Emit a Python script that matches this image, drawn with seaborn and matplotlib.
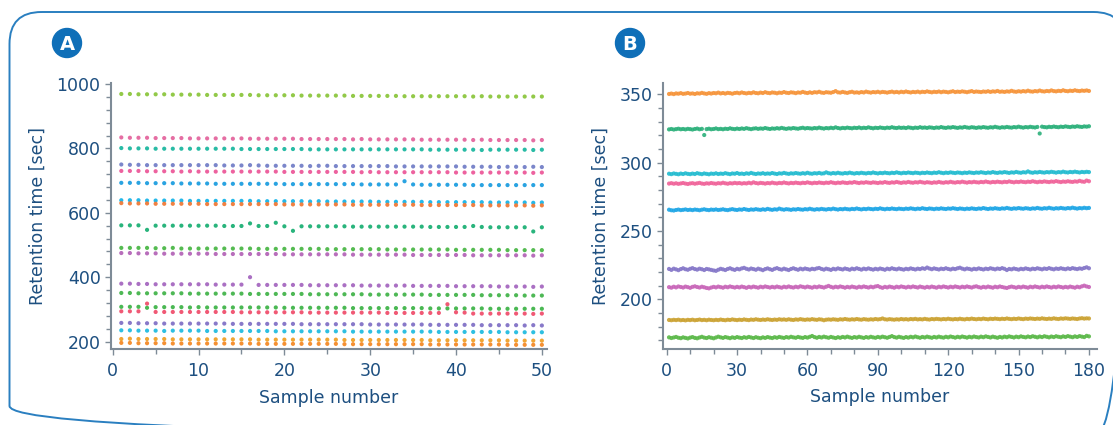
import numpy as np
import pandas as pd
import matplotlib
matplotlib.use("Agg")
import matplotlib.pyplot as plt
from matplotlib.patches import FancyBboxPatch, Circle
from matplotlib.ticker import MultipleLocator
from matplotlib.transforms import Affine2D
import seaborn as sns

# ---------------- Panel A data (50 samples, 19 compounds) ----------------
samples_a = list(range(1, 51))
a01 = [969,969,968,968,968,968,967,967,967,967,966,966,966,966,966,966,965,965,965,965,965,964,964,964,964,964,964,963,963,963,963,963,963,962,962,962,962,962,962,962,962,961,962,961,961,961,961,961,961,961]
a02 = [834,833,833,833,832,832,832,832,831,831,831,831,831,830,831,830,830,830,830,830,830,829,829,829,829,829,829,828,829,828,828,828,828,828,828,827,827,827,827,827,827,826,827,826,826,826,826,826,825,826]
a03 = [801,800,800,800,799,799,799,799,799,799,799,799,799,799,798,798,798,798,798,798,798,798,797,797,797,797,797,797,797,797,797,797,797,797,797,797,796,796,796,796,796,796,795,796,796,796,796,796,795,796]
a04 = [750,749,749,748,748,748,748,748,748,748,748,748,747,747,747,748,747,746,746,746,746,746,745,746,746,745,745,745,745,745,745,745,744,744,744,744,744,744,744,744,743,743,743,743,742,743,743,742,743,742]
a05 = [730,730,730,729,729,729,729,728,729,728,728,728,728,728,728,728,728,728,728,727,727,727,727,727,727,727,727,727,726,727,726,726,726,726,726,726,726,726,726,725,725,725,725,725,725,725,725,725,724,725]
a06 = [693,693,693,692,692,692,692,691,691,691,691,690,690,690,690,690,690,690,690,689,689,689,689,689,689,689,689,689,688,688,688,688,688,698,688,687,687,687,687,687,687,686,686,686,686,686,686,686,686,686]
a07 = [639,639,639,638,638,638,638,638,637,637,637,637,637,637,637,637,636,636,636,636,636,636,635,636,635,635,635,635,635,635,634,634,634,634,634,634,633,633,633,633,633,633,633,632,632,632,632,632,631,632]
a08 = [630,629,629,629,628,628,628,628,628,628,627,627,627,627,627,627,627,627,627,626,626,626,626,626,626,626,626,625,625,625,625,625,625,625,625,624,624,624,624,624,624,624,623,623,623,623,623,623,622,623]
a09 = [561,561,561,547,560,560,560,560,560,560,560,560,559,559,559,567,559,559,569,558,544,558,558,558,558,558,558,557,557,557,557,557,557,557,557,557,556,556,556,556,556,559,556,555,555,555,555,555,542,555]
a10 = [491,491,491,491,490,490,491,489,489,489,489,489,489,489,489,489,488,488,488,488,488,488,488,488,487,487,487,487,487,487,487,486,486,486,486,486,486,486,486,485,485,485,485,485,485,484,484,484,484,484]
a11 = [475,475,474,474,474,473,473,473,473,473,473,472,472,472,472,472,472,472,472,471,471,471,471,471,471,471,471,470,470,470,470,470,470,470,469,469,469,469,469,469,469,468,468,468,468,468,468,468,467,468]
a12 = [380,380,379,379,378,378,378,378,378,378,378,377,377,377,377,400,376,376,376,376,376,376,375,375,375,375,375,375,374,374,374,374,374,374,373,373,373,373,373,372,372,372,372,372,371,371,371,371,370,371]
a13 = [351,351,350,350,350,350,350,350,349,349,349,349,349,349,349,348,348,348,348,348,348,348,347,347,347,347,347,347,347,346,346,346,346,346,346,346,345,345,345,345,345,345,344,344,344,344,344,343,343,343]
a14 = [308,308,308,305,307,307,307,307,306,307,306,306,306,306,306,306,306,306,306,305,305,305,305,305,305,305,305,304,304,304,304,304,304,304,304,304,303,303,303,303,303,303,303,302,302,302,302,302,302,302]
a15 = [294,294,294,318,292,292,292,292,292,292,292,292,292,292,291,291,291,291,291,291,291,291,290,290,290,290,290,290,290,290,290,289,289,289,289,289,289,289,316,291,290,287,287,287,287,287,287,287,286,287]
a16 = [258,258,257,257,257,256,256,256,256,256,256,256,256,255,255,255,255,255,255,255,255,254,254,254,254,254,254,254,254,253,253,253,253,253,253,253,252,252,252,252,252,252,251,251,251,251,251,250,251,250]
a17 = [235,235,234,234,234,233,234,234,234,234,233,233,233,233,233,233,233,233,232,232,232,232,232,232,232,232,232,231,231,231,231,231,231,231,231,231,231,230,230,230,230,230,230,230,230,229,229,229,229,229]
a18 = [208,209,208,208,208,208,207,207,207,207,207,207,207,207,207,207,206,206,206,206,206,206,206,206,206,206,205,205,205,205,205,205,205,205,205,205,204,204,204,204,204,204,204,204,204,203,203,203,203,203]
a19 = [196,196,195,195,195,195,194,194,194,194,194,194,194,194,194,194,193,193,193,193,193,193,193,193,193,193,192,192,192,192,192,192,192,192,192,192,191,191,191,191,191,191,191,191,191,190,190,190,190,190]
series_a = [a01, a02, a03, a04, a05, a06, a07, a08, a09, a10, a11, a12, a13, a14, a15, a16, a17, a18, a19]
colors_a = ["#8cc63e", "#e4669e", "#1db8a0", "#7480c8", "#ec5a9a", "#1e9ee0", "#18b4e8",
            "#f07a38", "#1db075", "#4cb848", "#b466b8", "#a668c0", "#44b44c", "#40b44a",
            "#f0506e", "#8272c6", "#22bce0", "#f0a028", "#f48a28"]

# ---------------- Panel B data (180 samples, 9 compounds) ----------------
samples_b = list(range(1, 181))
b1 = [350.2,350.5,350.1,350.6,350.4,350.8,350.3,350.5,350.9,350.4,
      350.6,350.2,350.7,350.5,351.0,350.6,350.3,350.8,350.5,350.9,
      350.7,351.2,350.6,350.9,350.5,351.0,350.8,350.4,350.9,351.1,
      350.7,351.3,350.9,350.6,351.0,350.8,351.4,350.9,350.7,351.2,
      350.9,351.5,351.0,350.8,351.3,351.1,350.7,351.2,351.0,351.6,
      351.1,350.9,351.4,351.2,350.8,351.3,351.1,351.7,351.2,350.9,
      351.4,351.0,351.5,351.3,351.8,351.2,351.0,351.5,351.3,351.1,
      351.6,352.3,351.4,351.2,351.7,351.3,351.0,351.5,351.8,351.2,
      351.4,351.1,351.6,351.3,351.9,351.5,351.2,351.6,351.4,351.8,
      351.3,351.7,351.5,351.2,351.6,351.9,351.4,351.7,351.3,351.8,
      351.5,352.0,351.6,351.3,351.7,351.5,351.9,351.4,351.8,351.6,
      352.1,351.7,351.4,351.8,351.6,352.0,351.5,351.9,351.7,351.4,
      351.8,352.2,351.6,351.9,351.7,352.1,351.8,351.5,351.9,352.3,
      351.7,352.0,351.8,351.6,352.0,351.8,352.2,351.7,352.1,351.9,
      352.4,351.8,352.0,351.7,352.1,351.9,352.5,352.0,351.8,352.2,
      351.9,352.3,352.0,352.6,352.1,351.9,352.3,352.1,352.7,352.2,
      352.0,352.4,352.2,352.8,352.3,352.1,352.5,352.3,352.9,352.4,
      352.2,352.6,352.4,352.9,352.5,352.3,352.7,352.5,352.8,352.4]
b2 = [324.3,324.6,324.2,324.5,324.8,324.4,324.6,324.3,324.7,324.5,
      324.2,324.6,324.9,324.4,324.7,320.2,324.5,324.8,324.4,324.6,
      325.0,324.5,324.7,324.4,324.8,324.6,325.1,324.7,324.5,324.9,
      324.6,325.0,324.7,325.2,324.8,324.5,324.9,325.1,324.7,325.0,
      324.8,325.3,324.9,324.6,325.0,324.8,325.2,324.9,325.4,325.0,
      324.7,325.1,324.9,325.3,325.0,324.8,325.2,325.5,325.0,325.3,
      325.1,324.9,325.3,325.1,325.6,325.2,324.9,325.3,325.1,325.5,
      325.2,325.8,325.3,325.0,325.4,325.2,325.6,325.3,325.1,325.5,
      325.3,325.7,325.2,325.5,325.3,325.8,325.4,325.1,325.5,325.3,
      325.7,325.4,325.2,325.6,325.4,325.9,325.5,325.3,325.7,325.4,
      325.6,325.3,325.8,325.5,325.2,325.6,325.4,325.9,325.5,325.7,
      325.4,325.8,325.6,325.3,325.7,325.5,326.0,325.6,325.4,325.8,
      325.6,326.0,325.7,325.4,325.8,325.6,326.1,325.7,325.5,325.9,
      325.7,325.4,325.8,325.6,326.0,325.7,325.5,325.9,325.7,326.2,
      325.8,325.5,325.9,325.7,326.1,325.8,325.6,326.0,325.8,326.3,
      325.9,325.6,326.0,325.8,326.2,325.9,325.7,326.1,321.3,326.3,
      326.0,325.8,326.2,326.0,326.4,326.1,325.9,326.3,326.1,326.5,
      326.2,326.0,326.4,326.2,326.6,326.3,326.1,326.5,326.3,326.6]
b3 = [291.9,291.6,292.1,291.8,291.5,292.0,291.7,292.2,291.8,291.6,
      292.0,291.7,292.3,291.9,291.6,292.1,291.8,291.5,292.0,291.8,
      292.2,291.7,292.0,291.8,292.3,291.9,291.6,292.1,291.9,292.4,
      291.8,292.0,291.7,292.2,291.9,292.5,292.0,291.7,292.1,291.9,
      292.3,291.8,292.1,291.9,292.4,292.0,291.7,292.2,292.0,292.5,
      292.1,291.8,292.2,292.0,292.4,292.1,291.9,292.3,292.0,292.6,
      292.1,291.9,292.3,292.1,292.5,292.0,292.2,292.9,292.3,292.0,
      292.4,292.1,292.6,292.2,292.0,292.4,292.2,292.7,292.3,292.0,
      292.4,292.2,292.6,292.3,292.1,292.5,292.3,292.8,292.4,292.1,
      292.5,292.3,292.7,292.4,292.2,292.6,292.4,292.9,292.5,292.2,
      292.6,292.4,292.8,292.5,292.3,292.7,292.5,292.2,292.6,292.4,
      292.8,292.5,292.3,292.7,292.5,293.0,292.6,292.3,292.7,292.5,
      292.9,292.6,292.4,292.8,292.6,292.3,292.7,292.5,292.9,292.6,
      292.4,292.8,292.6,293.0,292.7,292.4,292.8,292.6,293.1,292.7,
      292.5,292.9,292.7,293.1,292.8,292.5,292.9,292.7,293.2,292.8,
      292.6,293.0,292.8,293.6,292.9,292.6,293.0,292.8,293.2,292.9,
      292.7,293.1,292.9,293.3,293.0,292.7,293.1,292.9,293.4,293.0,
      292.8,293.2,293.0,293.4,293.1,292.8,293.2,293.0,293.3,293.1]
b4 = [284.7,285.0,284.6,284.9,284.5,284.8,285.1,284.7,284.4,284.8,
      285.0,284.6,284.9,285.2,284.7,284.5,284.9,284.7,285.1,284.8,
      284.6,285.0,284.8,285.3,284.9,284.6,285.0,284.8,285.2,284.9,
      285.1,284.7,285.0,284.8,285.3,284.9,285.6,285.1,284.8,285.2,
      285.0,284.7,285.1,284.9,285.4,285.0,284.8,285.2,285.0,285.5,
      285.1,284.8,285.2,285.0,285.4,285.1,284.9,285.3,285.1,285.6,
      285.2,284.9,285.3,285.1,285.5,285.2,285.0,285.4,285.2,285.7,
      285.3,285.0,285.4,285.2,285.6,285.3,285.1,285.5,285.3,285.8,
      285.4,285.1,285.5,285.3,285.7,285.4,285.2,285.6,285.4,285.1,
      285.5,285.3,285.8,285.4,285.2,285.6,285.4,285.9,285.5,285.2,
      285.6,285.4,285.9,285.5,285.3,285.7,285.5,286.0,285.6,285.3,
      285.7,285.5,285.2,285.6,285.4,285.9,285.5,285.3,285.7,285.5,
      286.0,285.6,285.4,285.8,285.6,286.1,285.7,285.4,285.8,285.6,
      286.0,285.7,285.5,285.9,285.7,286.2,285.8,285.5,285.9,285.7,
      286.1,285.8,285.6,286.0,285.8,286.3,285.9,285.6,286.0,285.8,
      286.2,285.9,285.7,286.1,285.9,286.4,286.0,285.7,286.1,285.9,
      286.3,286.0,285.8,286.2,286.0,286.5,286.1,285.8,286.2,286.0,
      286.4,286.1,285.9,286.3,286.1,286.7,286.2,286.0,286.9,286.4]
b5 = [265.6,265.2,265.0,265.4,265.7,265.3,265.5,265.8,265.4,265.6,
      265.3,265.7,265.5,265.2,265.6,265.9,265.5,265.3,265.7,265.5,
      265.8,265.4,265.6,265.9,265.5,265.3,265.7,266.0,265.6,265.4,
      265.8,265.6,266.1,265.7,265.4,265.8,265.6,266.0,265.7,265.5,
      265.9,265.6,266.2,265.8,265.5,265.9,265.7,266.4,265.9,265.6,
      266.0,265.8,265.5,265.9,265.7,266.1,265.8,265.6,266.0,265.8,
      266.3,265.9,265.6,266.0,265.8,266.2,265.9,265.7,266.1,265.9,
      266.4,266.0,265.7,266.1,265.9,266.3,266.0,265.8,266.2,266.0,
      266.5,266.1,265.8,266.2,266.0,266.4,266.1,265.9,266.3,266.1,
      266.6,266.2,265.9,266.3,266.1,266.5,266.2,266.0,266.4,266.2,
      266.0,266.4,266.2,266.6,266.3,266.0,266.4,266.2,266.7,266.3,
      266.1,266.5,266.3,266.0,266.4,266.2,266.6,266.3,266.1,266.5,
      266.3,266.7,266.4,266.1,266.5,266.3,266.0,266.4,266.2,266.6,
      266.3,266.1,266.5,266.3,266.8,266.4,266.1,266.5,266.3,266.7,
      266.4,266.2,266.6,266.4,266.9,266.5,266.2,266.6,266.4,266.8,
      266.5,266.3,266.7,266.5,266.2,266.6,266.4,266.9,266.5,266.3,
      266.7,266.5,267.0,266.6,266.3,266.7,266.5,266.9,266.6,266.4,
      266.8,266.6,267.1,266.7,266.4,266.8,266.6,267.0,266.7,266.9]
b6 = [222.3,221.6,222.5,222.0,221.4,222.2,222.8,222.1,221.7,222.4,
      222.9,222.2,221.8,222.5,222.1,221.5,222.3,222.0,221.6,221.2,
      220.9,221.7,222.4,222.0,221.5,222.3,222.8,222.1,221.6,222.4,
      222.0,222.7,223.1,222.4,221.9,222.6,222.2,221.7,222.5,222.0,
      221.4,222.2,222.7,222.1,221.6,222.4,222.9,222.2,221.8,222.5,
      222.0,221.5,222.3,222.8,222.2,221.7,222.5,222.0,222.6,222.2,
      221.8,222.4,222.1,222.7,223.0,222.3,221.8,222.5,222.1,221.6,
      222.4,222.0,222.7,222.3,221.9,222.6,222.2,221.7,222.5,222.1,
      222.8,222.3,221.8,222.5,222.1,222.7,222.2,221.8,222.4,222.0,
      222.6,222.2,221.7,222.5,222.1,222.8,222.3,222.0,222.6,222.2,
      221.8,222.4,222.1,222.7,222.3,221.9,222.5,222.2,222.8,222.4,
      223.3,222.6,222.1,222.7,222.3,221.9,222.5,222.2,222.8,222.3,
      221.9,222.5,222.2,222.8,223.2,222.5,222.0,222.6,222.3,221.8,
      222.4,222.1,222.7,222.3,221.9,222.5,222.2,222.8,222.4,222.0,
      222.6,222.3,222.9,222.4,221.5,222.3,222.0,222.6,222.2,221.8,
      222.4,222.1,222.7,222.3,221.9,222.5,222.2,222.8,222.4,222.0,
      222.6,222.3,222.9,222.4,222.0,222.6,222.3,222.8,222.4,222.1,
      222.7,222.3,222.9,222.5,222.2,222.7,222.4,223.0,223.5,222.8]
b7 = [209.0,208.6,209.3,208.8,209.5,209.1,208.7,209.4,209.0,208.5,
      209.2,209.6,209.1,208.7,209.3,208.9,208.4,208.1,208.7,209.2,
      208.8,209.4,209.0,208.6,209.3,208.9,209.5,209.1,208.7,209.2,
      208.8,209.4,209.0,208.5,209.2,208.8,209.4,209.0,208.6,209.3,
      208.9,209.5,209.1,208.7,209.2,208.8,209.4,209.0,208.6,209.3,
      208.9,209.5,209.0,208.7,209.3,208.9,209.6,209.2,208.8,209.4,
      209.0,208.6,209.3,208.9,209.5,209.1,208.7,209.3,209.9,209.2,
      208.7,209.3,208.9,209.5,209.1,208.6,209.2,208.8,209.4,209.0,
      208.6,209.3,208.9,209.5,209.1,208.7,209.3,208.9,209.5,209.8,
      209.0,208.5,209.2,208.8,209.4,209.0,208.6,209.3,208.9,209.5,
      209.1,208.7,209.3,208.9,209.5,209.1,208.7,209.4,209.0,208.6,
      209.2,208.8,209.4,209.0,208.6,209.3,208.9,209.5,209.1,208.7,
      209.3,208.9,209.5,209.1,208.7,209.3,208.9,209.5,209.1,208.7,
      209.3,209.6,209.0,208.6,209.2,208.8,209.4,209.0,208.6,209.3,
      208.9,209.5,209.1,208.7,208.4,209.0,209.4,209.0,208.6,209.2,
      208.8,209.4,209.0,208.6,209.3,208.9,209.5,209.1,208.7,209.3,
      208.9,209.5,209.1,208.7,209.3,208.9,209.5,209.1,208.7,209.2,
      208.8,209.4,209.0,208.6,209.3,208.9,209.6,210.1,209.5,209.1]
b8 = [185.0,184.8,185.1,184.9,185.2,184.8,185.0,184.7,185.1,184.9,
      185.2,184.8,185.0,185.3,184.9,185.1,184.8,185.2,185.0,184.8,
      185.1,184.9,185.3,185.0,184.8,185.2,185.0,185.4,185.1,184.9,
      185.2,185.0,185.4,185.1,184.9,185.3,185.1,185.5,185.2,185.0,
      185.3,185.1,185.5,185.2,185.0,185.3,185.1,185.5,185.2,185.4,
      185.1,185.5,185.2,185.0,185.4,185.2,185.6,185.3,185.1,185.4,
      185.2,185.6,185.3,185.1,185.5,185.3,184.8,185.2,185.4,185.2,
      185.5,185.3,185.1,185.5,185.3,185.7,185.4,185.2,185.5,185.3,
      185.7,185.4,185.2,185.6,185.4,185.2,185.5,185.3,185.7,185.4,
      185.6,186.1,185.5,185.3,185.6,185.4,185.2,185.5,185.3,185.7,
      185.4,185.6,185.3,185.7,185.5,185.8,185.4,185.6,185.4,185.8,
      185.5,185.3,185.7,185.5,185.8,185.6,185.4,185.7,185.5,185.9,
      185.6,185.4,185.7,185.5,185.9,185.6,185.4,185.8,185.6,186.0,
      185.7,185.5,185.8,185.6,186.0,185.7,185.5,185.9,185.7,186.0,
      185.8,185.6,185.9,185.7,186.1,185.8,185.6,185.9,185.7,186.1,
      185.8,185.6,186.0,185.8,186.1,185.9,185.7,186.0,185.8,186.2,
      185.9,185.7,186.0,185.8,186.2,185.9,185.7,186.1,185.9,186.2,
      186.0,185.8,186.1,185.9,185.7,186.1,186.3,186.0,186.2,186.1]
b9 = [172.3,171.8,172.2,172.6,172.0,171.7,172.3,171.9,171.5,172.1,
      172.5,171.9,171.6,172.2,172.7,172.1,171.8,172.4,172.0,171.6,
      172.2,172.8,172.3,171.9,172.5,172.1,171.7,172.3,171.9,172.5,
      172.1,171.8,172.4,172.0,172.6,172.2,171.8,172.4,172.0,171.7,
      172.3,171.9,172.5,172.1,171.8,172.4,172.0,172.6,172.2,171.9,
      172.5,172.1,172.7,172.3,172.0,172.6,172.2,171.9,172.5,172.1,
      172.7,173.3,172.5,172.0,172.6,172.2,172.8,172.4,172.0,172.6,
      172.2,171.8,172.4,172.0,172.6,172.2,172.8,172.3,171.9,172.5,
      172.1,172.7,172.3,171.9,172.5,172.1,172.7,172.3,172.0,172.6,
      172.2,172.8,172.4,172.0,172.6,173.2,172.5,172.1,172.7,172.3,
      171.9,172.5,172.1,172.7,172.3,172.9,172.4,172.0,172.6,172.2,
      172.8,172.4,172.0,172.6,172.2,172.8,172.4,172.1,172.7,172.3,
      172.9,172.5,172.1,172.7,172.3,172.9,172.5,172.1,172.7,172.3,
      172.9,172.5,172.2,172.8,172.4,173.0,172.6,172.2,172.8,172.4,
      172.0,172.6,172.2,172.8,172.4,173.0,172.6,172.2,172.8,172.4,
      173.0,172.6,172.3,172.9,172.5,173.1,172.7,172.3,172.9,172.5,
      173.1,172.7,172.3,172.9,172.5,173.1,172.7,172.4,173.0,172.6,
      173.2,172.8,172.4,173.0,172.6,173.2,172.8,172.5,173.4,173.0]
series_b = [b1, b2, b3, b4, b5, b6, b7, b8, b9]
colors_b = ["#f6943a", "#2bb07a", "#24bcd0", "#f0649a", "#1ea6e6",
            "#8476c8", "#c865b8", "#cba232", "#5ab848"]

x_label = "Sample number"
y_label = "Retention time [sec]"
xticks_a = [0, 10, 20, 30, 40, 50]
yticks_a = [200, 400, 600, 800, 1000]
xticks_b = [0, 30, 60, 90, 120, 150, 180]
yticks_b = [200, 250, 300, 350]

# ---------------- long-form frames ----------------
def long_frame(xs, series, prefix):
    rows = []
    for i, s in enumerate(series):
        for x, v in zip(xs, s):
            rows.append((x, v, f"{prefix}{i:02d}"))
    return pd.DataFrame(rows, columns=["sample", "rt", "compound"])

df_a = long_frame(samples_a, series_a, "a")
df_b = long_frame(samples_b, series_b, "b")

# ---------------- style ----------------
sns.set_theme(style="ticks")
plt.rcParams["font.family"] = ["DejaVu Sans"]
plt.rcParams["savefig.bbox"] = None
TXT = "#1d4f80"
SPINE = "#7e8b97"

W, H = 1113, 425
fig = plt.figure(figsize=(W / 100, H / 100), dpi=100)

# rounded frame drawn directly in canvas pixels (origin top-left);
# its right and bottom sides lie just outside the canvas
px = Affine2D().scale(1, -1).translate(0, H)
fig.add_artist(FancyBboxPatch((9.5, 12), 1116, 426,
                              boxstyle="round,pad=0,rounding_size=32",
                              fill=False, edgecolor="#2a7fc0", linewidth=1.4,
                              transform=px))

# badges
ov = fig.add_axes([0, 0, 1, 1], zorder=-1)
ov.set_xlim(0, W)
ov.set_ylim(H, 0)
ov.axis("off")
for cx, letter in [(67, "A"), (630, "B")]:
    ov.add_patch(Circle((cx, 43), 14.5, color="#0f6fb8"))
    ov.text(cx, 44, letter, color="white", fontsize=14, fontweight="bold",
            ha="center", va="center")

axA = fig.add_axes([111 / W, 1 - 349 / H, 436 / W, (349 - 82.7) / H])
axB = fig.add_axes([662.7 / W, 1 - 348.7 / H, 434 / W, (348.7 - 83.3) / H])

sns.scatterplot(data=df_a, x="sample", y="rt", hue="compound",
                palette=colors_a, s=9, linewidth=0, alpha=0.95,
                legend=False, ax=axA)
sns.scatterplot(data=df_b, x="sample", y="rt", hue="compound",
                palette=colors_b, s=9, linewidth=0, alpha=0.9,
                legend=False, ax=axB)

axA.set_xlim(-0.2, 50.6)
axA.set_ylim(177, 1004)
axA.set_xticks(xticks_a)
axA.set_yticks(yticks_a)
axA.xaxis.set_minor_locator(MultipleLocator(5))
axA.yaxis.set_minor_locator(MultipleLocator(40))

axB.set_xlim(-1.7, 183.3)
axB.set_ylim(164, 358)
axB.set_xticks(xticks_b)
axB.set_yticks(yticks_b)
axB.xaxis.set_minor_locator(MultipleLocator(10))
axB.yaxis.set_minor_locator(MultipleLocator(10))

for ax in (axA, axB):
    ax.set_facecolor("none")
    for side in ("top", "right"):
        ax.spines[side].set_visible(False)
    for side in ("left", "bottom"):
        ax.spines[side].set_color(SPINE)
        ax.spines[side].set_linewidth(1.5)
    ax.tick_params(which="major", length=4.5, width=1.0, color=SPINE,
                   labelcolor=TXT, labelsize=12.5, pad=3)
    ax.tick_params(which="minor", length=3.5, width=1.0, color=SPINE)
    ax.tick_params(axis="x", which="major", pad=5)
    ax.set_xlabel(x_label, color=TXT, fontsize=12.5, labelpad=6)
    ax.set_ylabel(y_label, color=TXT, fontsize=12.5, labelpad=7)

fig.savefig("out.png", dpi=100, bbox_inches=None)
